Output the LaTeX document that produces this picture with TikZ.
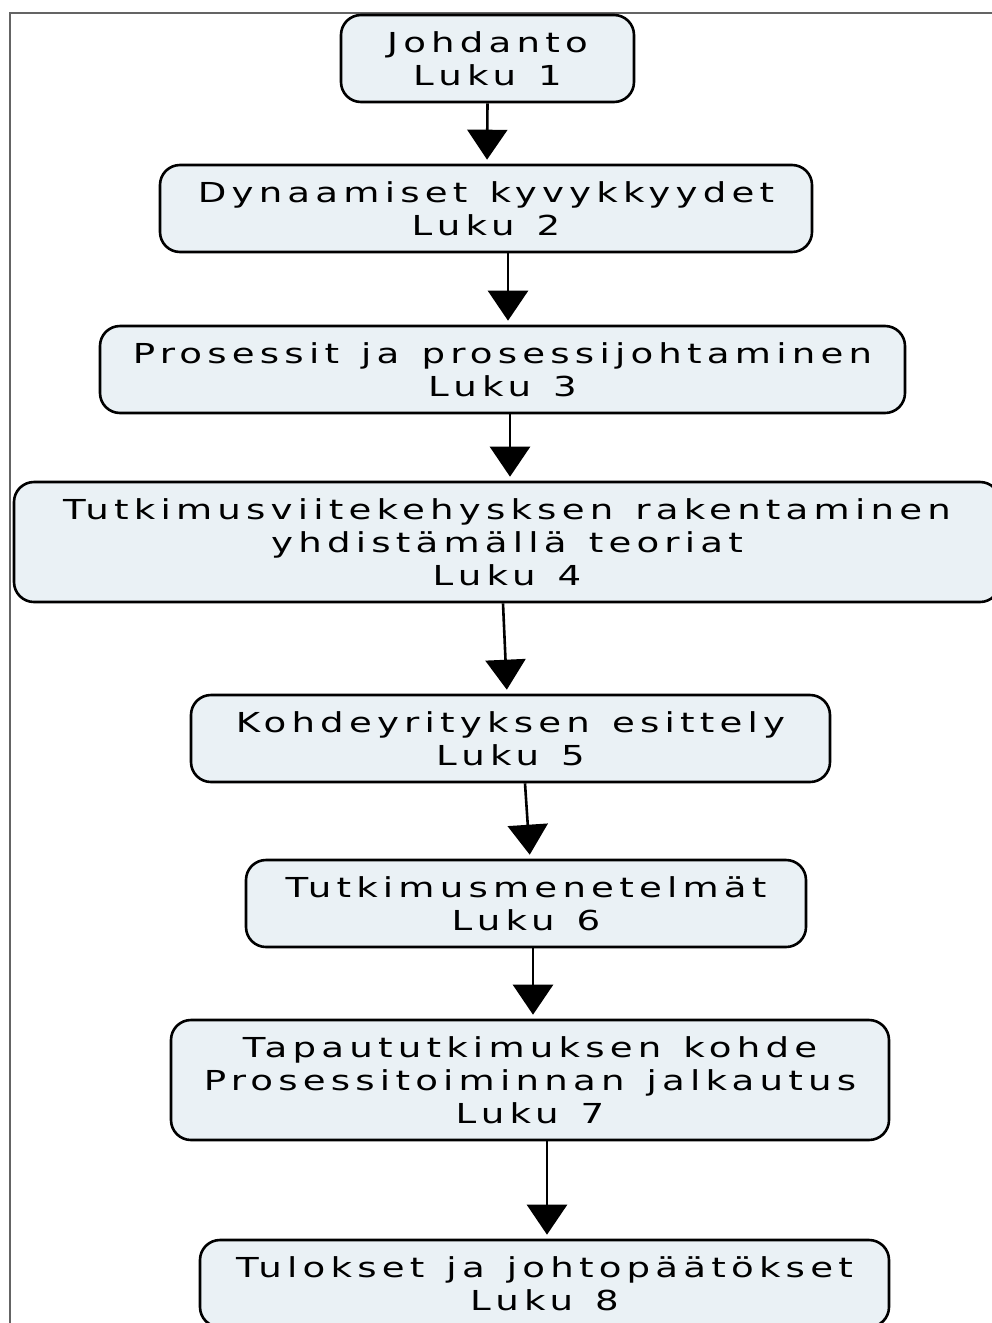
\documentclass[tikz,border=0pt]{standalone}
\usepackage{graphicx}
\usepackage{fontspec}
\setmainfont{DejaVu Sans}[LetterSpace=14,WordSpace=1.3]
\usetikzlibrary{arrows.meta}
\definecolor{boxfill}{RGB}{234,241,245}
\definecolor{framegray}{RGB}{100,100,100}
\newcommand{\wl}[1]{\scalebox{1.35}[1]{#1}}
\tikzset{
  chapbox/.style={draw=black, line width=2.6pt, fill=boxfill, rounded corners=20pt,
    align=center, inner sep=0pt, font=\fontsize{27.5}{33}\selectfont},
  flowarrow/.style={line width=2.6pt, -{Triangle[width=40pt,length=30pt]}, shorten >=4pt},
  frameline/.style={draw=framegray, line width=1.5pt}
}
\begin{document}
\begin{tikzpicture}[x=1pt,y=-1pt]
\useasboundingbox (0,0) rectangle (992,1323);
\clip (0,0) rectangle (992,1323);
\fill[white] (0,0) rectangle (992,1323);
\coordinate (ftl) at (10,13);
\coordinate (fbl) at (10,1330);
\coordinate (ftr) at (1000,13);
\draw[frameline] (fbl) -- (ftl) -- (ftr);

\node[chapbox, minimum width=293, minimum height=87] (b1) at (487.5,58.5) {\wl{Johdanto}\\\wl{Luku 1}};
\node[chapbox, minimum width=652, minimum height=87] (b2) at (486,208.5) {\wl{Dynaamiset kyvykkyydet}\\\wl{Luku 2}};
\node[chapbox, minimum width=805, minimum height=87] (b3) at (502.5,369.5) {\wl{Prosessit ja prosessijohtaminen}\\\wl{Luku 3}};
\node[chapbox, minimum width=986, minimum height=120] (b4) at (507,542) {\wl{Tutkimusviitekehysksen rakentaminen}\\\wl{yhdistämällä teoriat}\\\wl{Luku 4}};
\node[chapbox, minimum width=639, minimum height=87] (b5) at (510.5,738.5) {\wl{Kohdeyrityksen esittely}\\\wl{Luku 5}};
\node[chapbox, minimum width=560, minimum height=87] (b6) at (526,903.5) {\wl{Tutkimusmenetelmät}\\\wl{Luku 6}};
\node[chapbox, minimum width=718, minimum height=120] (b7) at (530,1080) {\wl{Tapaututkimuksen kohde}\\\wl{Prosessitoiminnan jalkautus}\\\wl{Luku 7}};
\node[chapbox, minimum width=689, minimum height=87] (b8) at (544.5,1283.5) {\wl{Tulokset ja johtopäätökset}\\\wl{Luku 8}};

\draw[flowarrow] (b1.south) -- ([xshift=1pt]b2.north);
\draw[flowarrow] ([xshift=22pt]b2.south) -- ([xshift=5.5pt]b3.north);
\draw[flowarrow] ([xshift=7.5pt]b3.south) -- ([xshift=3pt]b4.north);
\draw[flowarrow] ([xshift=-4pt]b4.south) -- ([xshift=-3.5pt]b5.north);
\draw[flowarrow] ([xshift=14.5pt]b5.south) -- ([xshift=4pt]b6.north);
\draw[flowarrow] ([xshift=7pt]b6.south) -- ([xshift=3pt]b7.north);
\draw[flowarrow] ([xshift=17pt]b7.south) -- ([xshift=2.5pt]b8.north);
\end{tikzpicture}
\end{document}
